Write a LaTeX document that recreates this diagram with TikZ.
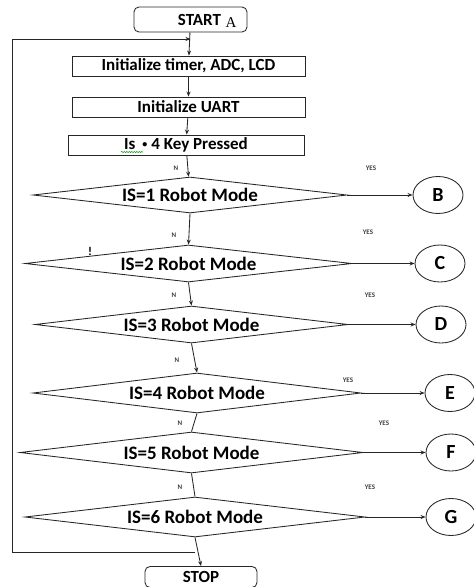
\documentclass[tikz,border=0pt]{standalone}
\usepackage{fontspec}
\setmainfont{Carlito}
\newfontfamily\serifA{Liberation Serif}
\usetikzlibrary{shapes.geometric,arrows.meta,decorations.pathmorphing,calc}
\begin{document}
\begin{tikzpicture}[x=1pt,y=-1pt,
 line/.style={draw=black!85,line width=0.85pt},
 arr/.style={line,-{Stealth[length=5pt,width=4pt]}},
 procbox/.style={draw=black!85,line width=0.85pt,rectangle,inner sep=0pt,minimum height=20pt,font=\bfseries\fontsize{17}{17}\selectfont},
 termbox/.style={procbox,rounded corners=5pt},
 decis/.style={draw=black!85,line width=0.85pt,diamond,aspect=8,inner sep=0pt,font=\bfseries\fontsize{19}{19}\selectfont},
 conn/.style={draw=black!85,line width=0.85pt,ellipse,inner sep=0pt,minimum width=50pt,minimum height=37pt,font=\bfseries\fontsize{20}{20}\selectfont},
 lab/.style={font=\bfseries\fontsize{7}{7}\selectfont,text=black!75,inner sep=0pt},
]
\useasboundingbox[fill=white] (0,0) rectangle (474,587);

% terminals and process boxes
\node[termbox,minimum width=113pt,minimum height=25pt] (start) at (190.5,19.5) {\hspace{18pt}START};
\node[font=\serifA\fontsize{15}{15}\selectfont,inner sep=0pt] (startA) at (231,23) {A};
\node[procbox,minimum width=233pt] (b1) at (188.5,66) {Initialize timer, ADC, LCD};
\node[procbox,minimum width=233pt] (b2) at (188.5,107) {Initialize UART};
\node[procbox,minimum width=236pt] (b3) at (186,145) {Is\hspace{7pt}{\fontsize{10}{10}\selectfont\raisebox{2pt}{•}}\hspace{4pt}4 Key Pressed};
\node[termbox,minimum width=112pt,minimum height=21pt] (stop) at (201,577) {STOP};

% decisions
\node[decis,minimum width=314pt,minimum height=36pt] (d1) at (190,195) {IS=1 Robot Mode};
\node[decis,minimum width=327pt,minimum height=37pt] (d2) at (188.5,263.5) {IS=2 Robot Mode};
\node[decis,minimum width=313pt,minimum height=37pt] (d3) at (191.5,324.5) {IS=3 Robot Mode};
\node[decis,minimum width=328pt,minimum height=40pt] (d4) at (197,393) {IS=4 Robot Mode};
\node[decis,minimum width=343pt,minimum height=41pt] (d5) at (191.5,452.5) {IS=5 Robot Mode};
\node[decis,minimum width=340pt,minimum height=40pt] (d6) at (195,517) {IS=6 Robot Mode};

% connectors (circles)
\node[conn] (cB) at (438,195) {B};
\node[conn] (cC) at (440,263.5) {C};
\node[conn] (cD) at (441,324.5) {D};
\node[conn] (cE) at (450,393) {E};
\node[conn] (cF) at (451,452.5) {F};
\node[conn] (cG) at (451,517) {G};

% main flow
\draw[arr] (start) -- (b1);
\draw[arr] (b1) -- (b2);
\draw[arr] (b2) -- (b3);
\draw[arr] (b3) -- (d1);
\draw[arr] (d1.south) -- (d2.north);
\draw[arr] (d2.south) -- (d3.north);
\draw[arr] (d3.south) -- (d4.north);
\draw[line] (d4.south) -- (d5.north);
\draw[line] (d5.south) -- (d6.north);
\draw[arr] (d6.south) -- (stop.north);

% yes branches
\draw[arr] (d1.east) -- (cB.west);
\draw[arr] (d2.east) -- (cC.west);
\draw[arr] (d3.east) -- (cD.west);
\draw[arr] (d4.east) -- (cE.west);
\draw[arr] (d5.east) -- (cF.west);
\draw[arr] (d6.east) -- (cG.west);

% loop back
\coordinate (jb) at (d6.south |- 0,552);
\coordinate (lb) at (12,552);
\coordinate (lt) at (12,39);
\coordinate (jt) at (start.south |- 0,39);
\draw[line] (jb) -- (lb) -- (lt);
\draw[arr] (lt) -- (jt);

% labels
\node[lab] (n1) at (176,168) {N};
\node[lab] (y1) at (371,168) {YES};
\node[lab] (n2) at (174,235) {N};
\node[lab] (y2) at (368,232) {YES};
\node[lab] (n3) at (174,295) {N};
\node[lab] (y3) at (370,295) {YES};
\node[lab] (n4) at (177,360) {N};
\node[lab] (y4) at (348,380) {YES};
\node[lab] (n5) at (180,423) {N};
\node[lab] (y5) at (384,423) {YES};
\node[lab] (n6) at (180,487) {N};
\node[lab] (y6) at (370,487) {YES};
\node[font=\bfseries\fontsize{12}{12}\selectfont,inner sep=0pt] (excl) at (90,251) {!};

% spell-check squiggle
\draw[green!55!black,line width=0.5pt,decorate,decoration={snake,amplitude=0.6pt,segment length=2.5pt}] (121,152) -- (143,152);
\end{tikzpicture}
\end{document}
